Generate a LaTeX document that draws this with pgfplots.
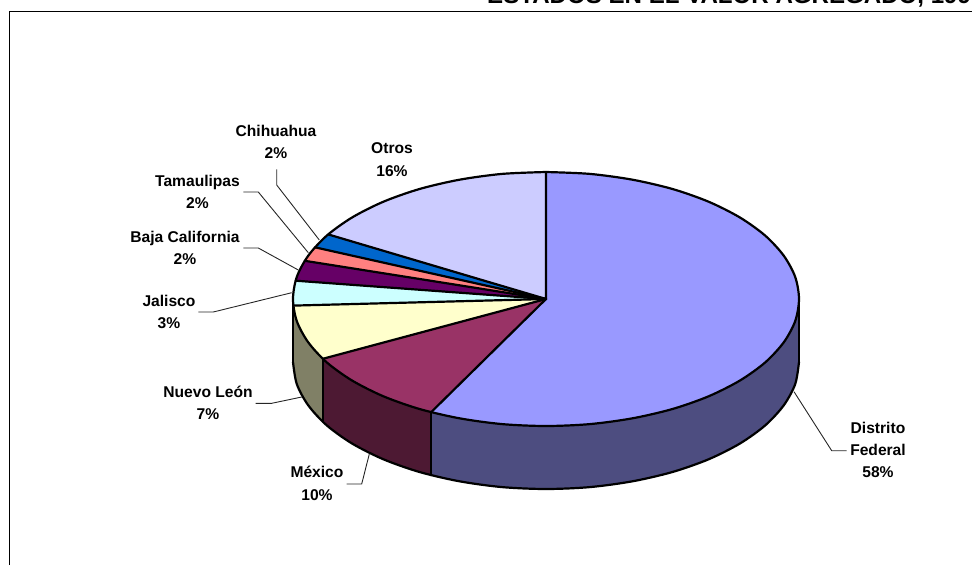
\documentclass[border=0pt]{standalone}
\usepackage{pgfplots}
\pgfplotsset{compat=1.18}
\usepackage{fontspec}
\setmainfont{Liberation Sans}
\definecolor{cDF}{HTML}{9999FF}
\definecolor{cDFs}{HTML}{4D4D80}
\definecolor{cMX}{HTML}{993366}
\definecolor{cMXs}{HTML}{4D1933}
\definecolor{cNL}{HTML}{FFFFCC}
\definecolor{cNLs}{HTML}{808066}
\definecolor{cJA}{HTML}{CCFFFF}
\definecolor{cBC}{HTML}{660066}
\definecolor{cTA}{HTML}{FF8080}
\definecolor{cCH}{HTML}{0066CC}
\definecolor{cOT}{HTML}{CCCCFF}
\tikzset{lab/.style={align=center,font=\fontsize{15.6}{22.4}\selectfont\bfseries,text=black,inner sep=0pt}}
\pgfplotsset{face/.style={draw=none,fill=#1},
 edge/.style={black,line width=2.2pt,line join=round,line cap=round},
 lead/.style={black!85,line width=0.9pt}}
\begin{document}
\begin{tikzpicture}[x=1pt,y=1pt]
\path[use as bounding box] (0,0) rectangle (972,565);
\begin{axis}[at={(0,0)},anchor=south west,scale only axis,width=972pt,height=565pt,
 xmin=0,xmax=972,ymin=0,ymax=565,y dir=reverse,hide axis,clip=false]
% frame
\addplot[black,line width=1pt] coordinates {(9.5,565) (9.5,11.5) (972,11.5)};
% side faces
\addplot[face=cDFs] coordinates {(799,299) (799,362) (795.2,384.1) (783.7,405.4) (765.1,425.5) (739.8,443.6) (708.6,459.3) (672.5,472) (632.5,481.3) (589.9,487.1) (546,489) (502.1,487.1) (459.5,481.3) (431.1,475.2) (431.1,412.2)} -- cycle;
\addplot[face=cMXs] coordinates {(431.1,412.2) (431.1,475.2) (419.5,472) (383.4,459.3) (352.2,443.6) (326.9,425.5) (322.8,421.8) (322.8,358.8)} -- cycle;
\addplot[face=cNLs] coordinates {(322.8,358.8) (322.8,421.8) (308.3,405.4) (296.8,384.1) (293,362) (293,299) (296.8,321.1) (308.3,342.4)} -- cycle;
% top faces: 57.5, 9.7, 7.1, 3.1, 2.6, 1.8, 1.8, 16.4 per cent of the ellipse
\addplot[face=cDF] coordinates {(546,299) (546,172) (589.9,173.9) (632.5,179.7) (672.5,189) (708.6,201.7) (739.8,217.4) (765.1,235.5) (783.7,255.6) (795.2,276.9) (799,299) (795.2,321.1) (783.7,342.4) (765.1,362.5) (739.8,380.6) (708.6,396.3) (672.5,409) (632.5,418.3) (589.9,424.1) (546,426) (502.1,424.1) (459.5,418.3) (431.1,412.2)} -- cycle;
\addplot[face=cMX] coordinates {(546,299) (431.1,412.2) (419.5,409) (383.4,396.3) (352.2,380.6) (326.9,362.5) (322.8,358.8)} -- cycle;
\addplot[face=cNL] coordinates {(546,299) (322.8,358.8) (308.3,342.4) (296.8,321.1) (293.3,305.6)} -- cycle;
\addplot[face=cJA] coordinates {(546,299) (293.3,305.6) (293,299) (295.7,280.7)} -- cycle;
\addplot[face=cBC] coordinates {(546,299) (295.7,280.7) (296.8,276.9) (304.7,260.8)} -- cycle;
\addplot[face=cTA] coordinates {(546,299) (304.7,260.8) (308.3,255.6) (314.9,247.3)} -- cycle;
\addplot[face=cCH] coordinates {(546,299) (314.9,247.3) (326.9,235.5) (328.2,234.4)} -- cycle;
\addplot[face=cOT] coordinates {(546,299) (328.2,234.4) (352.2,217.4) (383.4,201.7) (419.5,189) (459.5,179.7) (502.1,173.9) (546,172)} -- cycle;
% outlines
\addplot[edge,smooth] coordinates {(546,172) (589.9,173.9) (632.5,179.7) (672.5,189) (708.6,201.7) (739.8,217.4) (765.1,235.5) (783.7,255.6) (795.2,276.9) (799,299) (795.2,321.1) (783.7,342.4) (765.1,362.5) (739.8,380.6) (708.6,396.3) (672.5,409) (632.5,418.3) (589.9,424.1) (546,426) (502.1,424.1) (459.5,418.3) (419.5,409) (383.4,396.3) (352.2,380.6) (326.9,362.5) (308.3,342.4) (296.8,321.1) (293,299) (296.8,276.9) (308.3,255.6) (326.9,235.5) (352.2,217.4) (383.4,201.7) (419.5,189) (459.5,179.7) (502.1,173.9) (546,172)};
\addplot[edge,smooth] coordinates {(799,362) (795.2,384.1) (783.7,405.4) (765.1,425.5) (739.8,443.6) (708.6,459.3) (672.5,472) (632.5,481.3) (589.9,487.1) (546,489) (502.1,487.1) (459.5,481.3) (419.5,472) (383.4,459.3) (352.2,443.6) (326.9,425.5) (308.3,405.4) (296.8,384.1) (293,362)};
\addplot[edge] coordinates {(799,299) (799,362)};
\addplot[edge] coordinates {(293,299) (293,362)};
\addplot[edge] coordinates {(431.1,412.2) (431.1,475.2)};
\addplot[edge] coordinates {(322.8,358.8) (322.8,421.8)};
\addplot[edge] coordinates {(546,172) (546,299) (431.1,412.2)};
\addplot[edge] coordinates {(546,299) (322.8,358.8)};
\addplot[edge] coordinates {(546,299) (293.3,305.6)};
\addplot[edge] coordinates {(546,299) (295.7,280.7)};
\addplot[edge] coordinates {(546,299) (304.7,260.8)};
\addplot[edge] coordinates {(546,299) (314.9,247.3)};
\addplot[edge] coordinates {(546,299) (328.2,234.4)};
% leader lines
\addplot[lead] coordinates {(276.7,169.3) (276.7,185) (319.3,240)};
\addplot[lead] coordinates {(243.3,192) (258.3,192) (308.3,252.7)};
\addplot[lead] coordinates {(243.3,248) (258.3,248) (298.3,270)};
\addplot[lead] coordinates {(198.3,312) (213.3,312) (291.7,292.7)};
\addplot[lead] coordinates {(255.7,403.3) (271.7,403.3) (301.7,397)};
\addplot[lead] coordinates {(346.7,484) (361.7,484) (369.3,454)};
\addplot[lead] coordinates {(846.7,450.7) (831.7,450.7) (794,391.7)};
% labels
\node[lab] at (axis cs:276,142) {Chihuahua\\2\%};
\node[lab] at (axis cs:392,159.5) {Otros\\16\%};
\node[lab] at (axis cs:197.5,192) {Tamaulipas\\2\%};
\node[lab] at (axis cs:185,248) {Baja California\\2\%};
\node[lab] at (axis cs:169,312) {Jalisco\\3\%};
\node[lab] at (axis cs:208,403) {Nuevo León\\7\%};
\node[lab] at (axis cs:317,483.5) {México\\10\%};
\node[lab] at (axis cs:878,450) {Distrito\\Federal\\58\%};
\node[anchor=base west,inner sep=0pt,font=\fontsize{24.1}{28}\selectfont\bfseries] at (axis cs:487,3.5) {ESTADOS EN EL VALOR AGREGADO, 199};
\end{axis}
\end{tikzpicture}
\end{document}
